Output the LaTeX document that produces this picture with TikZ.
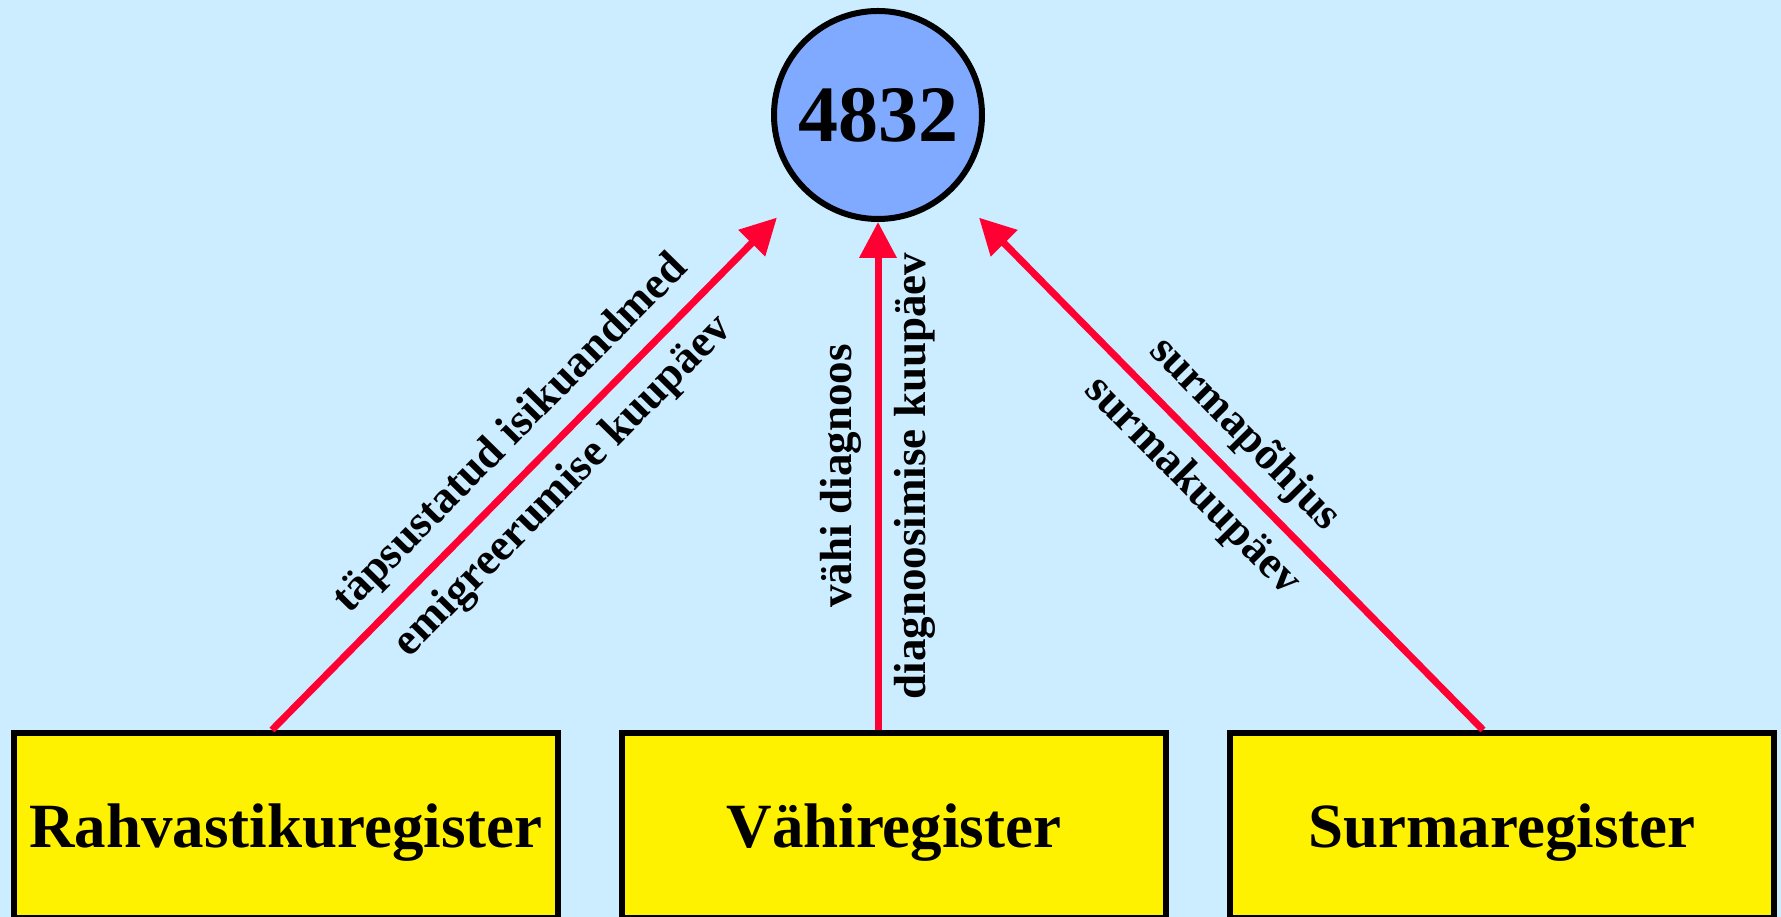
\documentclass[tikz,border=0pt]{standalone}
\usepackage{fontspec}
\setmainfont{Liberation Serif}
\usetikzlibrary{arrows.meta}
\definecolor{skyback}{RGB}{204,236,255}
\definecolor{ballblue}{RGB}{128,170,255}
\definecolor{linkred}{RGB}{255,0,51}

\begin{document}
\begin{tikzpicture}[x=1pt,y=1pt,
    register/.style={draw, line width=6pt, fill=yellow, minimum width=544pt, minimum height=185pt,
      inner sep=0pt, text height=45pt, text depth=0pt, font=\fontsize{63}{70}\selectfont\bfseries},
    link/.style={draw=linkred, line width=7pt, -{Triangle[length=36pt,width=36pt]}},
    tag/.style={sloped, inner sep=13pt, font=\fontsize{45}{50}\selectfont\bfseries}]
        \fill[skyback] (0,0) rectangle (1781,917);
        \useasboundingbox (0,0) rectangle (1781,917);
        \node[circle, draw, line width=6pt, fill=ballblue, minimum size=208pt, inner sep=0pt,
          font=\fontsize{80}{90}\selectfont\bfseries] (total) at (878,802) {4832};
        \node[register] (rahvastik) at (286,91.5) {Rahvastikuregister};
        \node[register] (vahi) at (894,91.5) {Vähiregister};
        \node[register] (surm) at (1502,91.5) {Surmaregister};
        \draw[link, shorten >=37pt] ([xshift=-14pt]rahvastik.north) -- (total)
          node[tag, midway, above] {täpsustatud isikuandmed}
          node[tag, midway, below] {emigreerumise kuupäev};
        \draw[link] ([xshift=-16pt]vahi.north) -- (total)
          node[tag, midway, above] {vähi diagnoos}
          node[tag, midway, below] {diagnoosimise kuupäev};
        \draw[link, shorten >=37pt] ([xshift=-19pt]surm.north) -- (total)
          node[tag, midway, above] {surmapõhjus}
          node[tag, midway, below] {surmakuupäev};
      \end{tikzpicture}
\end{document}
